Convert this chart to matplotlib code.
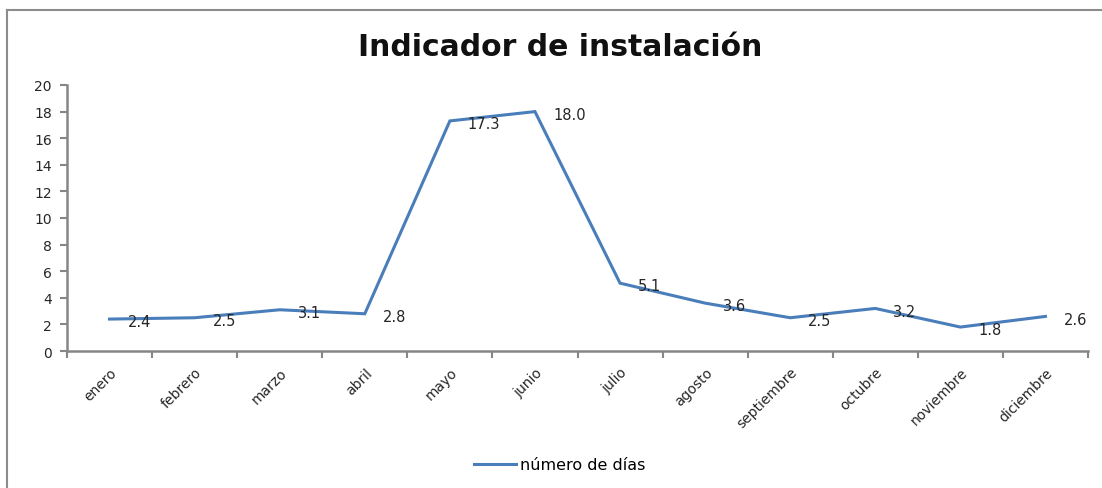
import matplotlib
matplotlib.use("Agg")
import matplotlib.pyplot as plt
import numpy as np
from matplotlib.lines import Line2D

months = ["enero", "febrero", "marzo", "abril", "mayo", "junio", "julio",
          "agosto", "septiembre", "octubre", "noviembre", "diciembre"]
dias = [2.4, 2.5, 3.1, 2.8, 17.3, 18.0, 5.1, 3.6, 2.5, 3.2, 1.8, 2.6]
yticks = [0, 2, 4, 6, 8, 10, 12, 14, 16, 18, 20]
title = "Indicador de instalación"
series_name = "número de días"

plt.rcParams['font.family'] = ['DejaVu Sans']
fig = plt.figure(figsize=(11.02, 4.89), dpi=100)
ax = fig.add_axes([67/1102, 1-352/489, (1088-67)/1102, (352-86)/489])

x = np.arange(len(months))
line, = ax.plot(x, dias, color="#4A7EBB", lw=2.2, solid_joinstyle='miter', label=series_name)
for xi, v in zip(x, dias):
    ax.annotate(f"{v:.1f}", (xi, v), xytext=(13, -2), textcoords="offset points",
                ha="left", va="center", fontsize=10.5, color="#262626")

ax.set_xlim(-0.5, len(months) - 0.5)
ax.set_ylim(0, 20)
ax.set_yticks(yticks)
ax.set_yticklabels([str(t) for t in yticks], fontsize=10, color="#262626")
ax.set_xticks(np.arange(-0.5, len(months), 1.0))
ax.set_xticklabels([])
ax.set_xticks(x, minor=True)
ax.set_xticklabels(months, minor=True, rotation=45, ha="right", rotation_mode="anchor",
                   fontsize=10, color="#262626")
ax.tick_params(axis="x", which="major", length=5, width=1.5, color="#868686", direction="out")
ax.tick_params(axis="x", which="minor", length=0, pad=10)
ax.tick_params(axis="y", length=5, width=1.5, color="#868686", direction="out", pad=6)
for s in ["top", "right"]:
    ax.spines[s].set_visible(False)
for s in ["left", "bottom"]:
    ax.spines[s].set_color("#868686")
    ax.spines[s].set_linewidth(1.8)

fig.text(560/1102, 1-47/489, title, ha="center", va="center", fontsize=21.5, fontweight="bold",
         color="#111111")
fig.legend(handles=[line], loc="center", bbox_to_anchor=(560/1102, 1-466/489), frameon=False,
           fontsize=11.5, handlelength=2.6, handletextpad=0.3)
fig.lines.append(Line2D([7/1102, 1], [1-11/489, 1-11/489], transform=fig.transFigure,
                        color="#8c8c8c", lw=1.5))
fig.lines.append(Line2D([7/1102, 7/1102], [0, 1-11/489], transform=fig.transFigure,
                        color="#8c8c8c", lw=1.5))
fig.savefig("out.png", dpi=100)
